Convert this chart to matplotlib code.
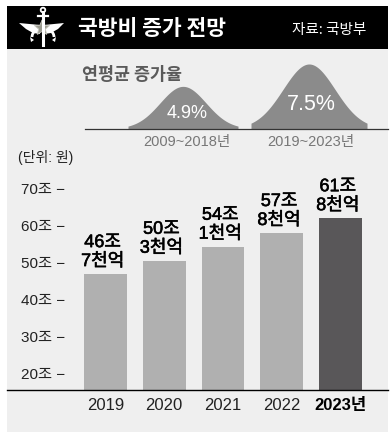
import numpy as np
import matplotlib
matplotlib.use("Agg")
import matplotlib.pyplot as plt
import matplotlib.patheffects as pe
from matplotlib.patches import Rectangle, Polygon, Circle, Arc

plt.rcParams['font.family'] = ['Liberation Sans', 'Noto Sans CJK KR']

# ---- data ----
years = ["2019", "2020", "2021", "2022", "2023년"]
budget = [46.7, 50.3, 54.1, 57.8, 61.8]          # 조 원
budget_labels = ["46조\n7천억", "50조\n3천억", "54조\n1천억", "57조\n8천억", "61조\n8천억"]
yticks = [20, 30, 40, 50, 60, 70]
ytick_labels = ["20조 −", "30조 −", "40조 −", "50조 −", "60조 −", "70조 −"]
rate_periods = ["2009~2018년", "2019~2023년"]
rates = [4.9, 7.5]                                # 연평균 증가율 (%)

W, H = 392, 439
fig = plt.figure(figsize=(W / 100, H / 100), dpi=100)
fig.patch.set_facecolor("white")

# background axes in pixel coordinates
bg = fig.add_axes([0, 0, 1, 1], zorder=-1)
bg.set_xlim(0, W)
bg.set_ylim(H, 0)
bg.axis("off")

# panel and header
bg.add_patch(Rectangle((7, 50), 381, 383, facecolor="#efefef", edgecolor="none"))
bg.add_patch(Rectangle((7, 7), 381, 43, facecolor="black", edgecolor="none"))

# emblem (simplified)
wing_l = Polygon([[19, 24], [40, 26], [40, 35], [33, 34], [26, 30]], closed=True, fc="white", ec="none")
wing_r = Polygon([[64, 24], [44, 26], [44, 35], [51, 34], [58, 30]], closed=True, fc="white", ec="none")
bg.add_patch(wing_l)
bg.add_patch(wing_r)
bg.add_patch(Circle((43, 11), 2.3, fc="none", ec="white", lw=1.3))
bg.plot([43, 43], [13, 46], color="white", lw=2.2)
bg.plot([38, 48], [17, 17], color="white", lw=1.6)
bg.add_patch(Arc((43, 38), 22, 18, theta1=180, theta2=360, color="white", lw=2.0))
bg.add_patch(Polygon([[30, 38], [34, 41], [31, 43]], closed=True, fc="white", ec="none"))
bg.add_patch(Polygon([[56, 38], [52, 41], [55, 43]], closed=True, fc="white", ec="none"))
ang = np.linspace(-np.pi / 2, 1.5 * np.pi, 11)[:-1]
rr = np.where(np.arange(10) % 2 == 0, 8, 3.5)
star = np.column_stack([42 + rr * np.cos(ang), 29 + rr * np.sin(ang)])
bg.add_patch(Polygon(star, closed=True, fc="#9a9a8e", ec="#c8c8c0", lw=0.6))

bg.text(78, 28.5, "국방비 증가 전망", color="white", fontsize=15.5, fontweight="bold",
        va="center", ha="left", family=["Noto Sans CJK KR"])
bg.text(366, 30, "자료: 국방부", color="white", fontsize=10.5, va="center", ha="right",
        family=["Noto Sans CJK KR"])

# annual growth rate bells
bg.text(82, 75, "연평균 증가율", color="#5a5a5a", fontsize=12.5, fontweight="bold",
        va="center", ha="left", family=["Noto Sans CJK KR"])
base_y = 129.5
px_per_pct = 8.6
centers = [183, 309]
sigmas = [23, 26]
halfw = [55, 58]
rate_fs = [13, 15.5]
text_x = [187, 311]
for c, s, hw, r, fs, tx, per in zip(centers, sigmas, halfw, rates, rate_fs, text_x, rate_periods):
    xs = np.linspace(c - hw, c + hw, 200)
    hh = r * px_per_pct
    ys = base_y - hh * np.exp(-0.5 * ((xs - c) / s) ** 2)
    bg.fill_between(xs, ys, base_y, color="#8b8b8b", lw=0)
    bg.text(tx, base_y - hh * 0.42 + 2, f"{r}%", color="white", fontsize=fs,
            ha="center", va="center")
    bg.text(tx, 142.5, per, color="#777777", fontsize=10.5, ha="center", va="center")
bg.plot([85, 388], [base_y, base_y], color="#333333", lw=0.9)

bg.text(18, 158, "(단위: 원)", color="#222222", fontsize=10, ha="left", va="center")

# bar axes
y_bottom_px, y_top_px = 391, 180
px_per_unit = 3.7
v0 = 20 - (y_bottom_px - 374) / px_per_unit
v1 = 20 + (374 - y_top_px) / px_per_unit
ax = fig.add_axes([76 / W, (H - y_bottom_px) / H, 294 / W, (y_bottom_px - y_top_px) / H])
ax.patch.set_alpha(0)
for sp in ax.spines.values():
    sp.set_visible(False)
x = np.arange(len(years))
colors = ["#b0b0b0"] * (len(years) - 1) + ["#595759"]
ax.bar(x, budget, width=0.73, color=colors, bottom=0)
ax.set_xlim(-0.5, len(years) - 0.5)
ax.set_ylim(v0, v1)
ax.set_yticks(yticks)
ax.set_yticklabels(ytick_labels, fontsize=11, color="#222222")
ax.tick_params(axis="y", length=0, pad=8)
ax.set_xticks(x)
ax.set_xticklabels(years, fontsize=12, color="#222222")
ax.tick_params(axis="x", length=0, pad=5)
ax.get_xticklabels()[-1].set_fontweight("bold")
ax.get_xticklabels()[-1].set_color("black")
for xi, v, lab in zip(x, budget, budget_labels):
    ax.annotate(lab, (xi, v), xytext=(-2, 3), textcoords="offset points",
                ha="center", va="bottom", fontsize=13, linespacing=1.15, color="black",
                path_effects=[pe.withStroke(linewidth=0.4, foreground="black")])
ax.plot([(7 - 76) / 294, (388 - 76) / 294], [0, 0], transform=ax.transAxes,
        color="black", lw=1.0, clip_on=False)

fig.savefig("out.png", dpi=100, facecolor="white")
